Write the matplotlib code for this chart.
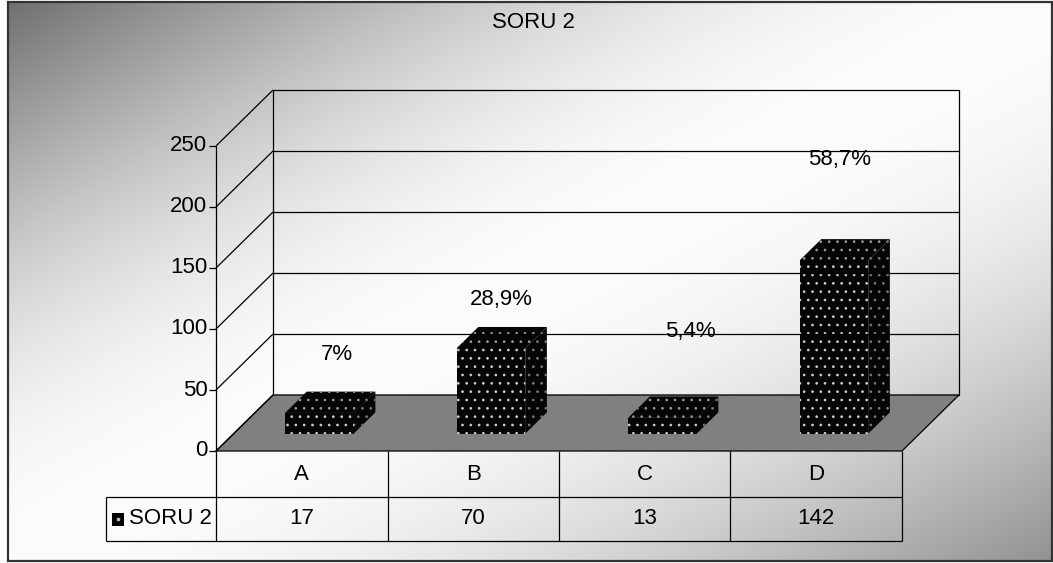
import numpy as np
import matplotlib.pyplot as plt
from matplotlib.patches import Polygon, Rectangle

# --- data ---
categories = ['A', 'B', 'C', 'D']
counts = [17, 70, 13, 142]
pct_labels = ['7%', '28,9%', '5,4%', '58,7%']
series_name = 'SORU 2'
chart_title = 'SORU 2'
y_ticks = [0, 50, 100, 150, 200, 250]

# where the percent labels sit (value units on the front plane, x nudge in categories)
label_y = [79, 124, 98, 239]
label_dx = [0.04, 0.0, 0.1, -0.03]

W, H = 1053, 563
plt.rcParams['font.family'] = ['Liberation Sans Narrow', 'Liberation Sans', 'DejaVu Sans']
plt.rcParams['hatch.linewidth'] = 0.7
FS = 16

fig = plt.figure(figsize=(W / 100, H / 100), dpi=100)

# --- background: grey corners, white band along the other diagonal ---
bg = fig.add_axes([0, 0, 1, 1])
bg.set_axis_off()
bg.set_xlim(0, W)
bg.set_ylim(H, 0)
xx, yy = np.meshgrid(np.linspace(0, 1, 500), np.linspace(0, 1, 280))
t = (xx + yy) / 2
dark = np.where(t < 0.5, 0x70, 0x92)
shade = (dark + (0xfc - dark) * np.sin(np.pi * t)) / 255.0
bg.imshow(np.dstack([shade] * 3), extent=(8, W, 561, 2), aspect='auto',
          interpolation='bilinear')
bg.add_patch(Rectangle((8, 2), W - 9, 559, fill=False, ec='#333333', lw=1.6))

# --- plot area: front plane spans x 216..902 px, value 0..250 on 451..146 px ---
X0, X1, Y0, Y250 = 216, 902, 451, 146
ax = fig.add_axes([X0 / W, 1 - Y0 / H, (X1 - X0) / W, (Y0 - Y250) / H])
ax.set_xlim(0, len(categories))
ax.set_ylim(0, y_ticks[-1])
ax.set_axis_off()

px_per_cat = (X1 - X0) / len(categories)
px_per_val = (Y0 - Y250) / y_ticks[-1]
DX = 57 / px_per_cat      # depth shift in category units
DY = 56 / px_per_val      # depth shift in value units


def proj(x, v, d):
    return (x + d * DX, v + d * DY)


def line(p, q, **kw):
    ax.plot([p[0], q[0]], [p[1], q[1]], color='black', lw=0.9,
            clip_on=False, solid_capstyle='butt', **kw)


n = len(categories)
top = y_ticks[-1]

# back wall with gridlines
ax.add_patch(Polygon([proj(0, 0, 1), proj(n, 0, 1), proj(n, top, 1), proj(0, top, 1)],
                     closed=True, fill=False, ec='black', lw=0.9, clip_on=False))
for v in y_ticks[1:-1]:
    line(proj(0, v, 1), proj(n, v, 1))

# left wall: diagonals, axis line, ticks
for v in y_ticks:
    line(proj(0, v, 0), proj(0, v, 1))
    line((-0.04, v), (0, v))
    ax.text(-0.05, v, str(v), ha='right', va='center', fontsize=FS, clip_on=False)
line((0, 0), (0, top))

# floor
ax.add_patch(Polygon([proj(0, 0, 0), proj(n, 0, 0), proj(n, 0, 1), proj(0, 0, 1)],
                     closed=True, fc='#808080', ec='black', lw=0.9, clip_on=False))

# bars
D0, D1, BW = 0.31, 0.69, 0.40
for i, v in enumerate(counts):
    xl = i + 0.5 - BW / 2
    xr = i + 0.5 + BW / 2
    side = [proj(xr, 0, D0), proj(xr, 0, D1), proj(xr, v, D1), proj(xr, v, D0)]
    lid = [proj(xl, v, D0), proj(xr, v, D0), proj(xr, v, D1), proj(xl, v, D1)]
    face = [proj(xl, 0, D0), proj(xr, 0, D0), proj(xr, v, D0), proj(xl, v, D0)]
    for pts, dots in ((side, '#7a7a7a'), (lid, '#9a9a9a'), (face, '#cfcfcf')):
        ax.add_patch(Polygon(pts, closed=True, fc='#050505', ec=dots, lw=0,
                             hatch='..', clip_on=False))
    ax.text(i + 0.5 + 0.5 * DX + label_dx[i], label_y[i], pct_labels[i],
            ha='center', va='center', fontsize=FS, clip_on=False)

# --- data table under the floor ---
ROW1 = -(497 - Y0) / px_per_val
ROW2 = -(541 - Y0) / px_per_val
LEFT = -(X0 - 106) / px_per_cat
line((LEFT, ROW1), (n, ROW1))
line((LEFT, ROW2), (n, ROW2))
line((LEFT, ROW1), (LEFT, ROW2))
for k in range(n + 1):
    line((k, 0), (k, ROW2))
for i, (c, v) in enumerate(zip(categories, counts)):
    ax.text(i + 0.5, ROW1 / 2, c, ha='center', va='center', fontsize=FS, clip_on=False)
    ax.text(i + 0.5, (ROW1 + ROW2) / 2, str(v), ha='center', va='center',
            fontsize=FS, clip_on=False)

# legend key in the row header
kx0 = -(X0 - 112) / px_per_cat
kw = 12 / px_per_cat
kh = 13 / px_per_val
ky = (ROW1 + ROW2) / 2 - kh / 2
ax.add_patch(Rectangle((kx0, ky), kw, kh, fc='black', ec='none', clip_on=False))
ax.plot(kx0 + kw / 2, ky + kh / 2, 's', ms=1.6, color='#bbbbbb', clip_on=False)
ax.text(-(X0 - 129) / px_per_cat, (ROW1 + ROW2) / 2, series_name, ha='left',
        va='center', fontsize=FS, clip_on=False)

fig.text(533 / W, 1 - 22 / H, chart_title, ha='center', va='center', fontsize=FS)

fig.savefig('out.png', dpi=100)
